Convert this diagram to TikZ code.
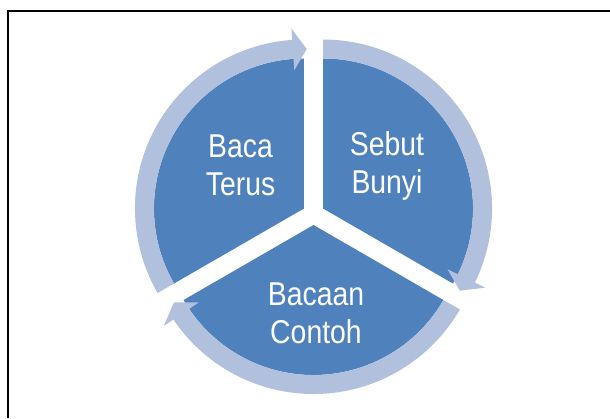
\documentclass[tikz,border=0pt]{standalone}
\usepackage{fontspec}
\setmainfont{Liberation Sans}[FakeStretch=0.86]
\usetikzlibrary{calc}
\definecolor{segblue}{HTML}{4F81BD}
\definecolor{ringblue}{HTML}{B1C1DD}

\begin{document}
\begin{tikzpicture}[x=1pt,y=1pt,
  segment/.style={fill=segblue},
  ringarc/.style={fill=ringblue},
  seglabel/.style={text=white, inner sep=0pt, align=center,
    font=\fontsize{33}{38}\selectfont}]
\useasboundingbox (0,0) rectangle (610,418);
% frame
\draw[line width=1.7pt] (8,0) -- (8,407) -- (610,407);
\coordinate (O) at (313.5,204);
% three exploded segments with their ring arrows
\foreach \a in {30,-90,150}{
  \coordinate (c) at ($(O)+(\a:11)$);
  \fill[segment] (c) -- ++(\a+60:150) arc[start angle=\a+60, end angle=\a-60, radius=150] -- cycle;
  \fill[ringarc] ($(c)+(\a+60:150)$) arc[start angle=\a+60, end angle=\a-56, radius=150]
    -- ($(c)+(\a-56:138.5)$) -- ($(c)+(\a-61:159.5)$) -- ($(c)+(\a-56:180.5)$)
    -- ($(c)+(\a-56:169)$) arc[start angle=\a-56, end angle=\a+60, radius=169] -- cycle;
}
\node[seglabel] (bt) at (240.5,252.5) {Baca\\Terus};
\node[seglabel] (sb) at (387,252.5) {Sebut\\Bunyi};
\node[seglabel] (bc) at (316,104.5) {Bacaan\\Contoh};
\end{tikzpicture}
\end{document}
